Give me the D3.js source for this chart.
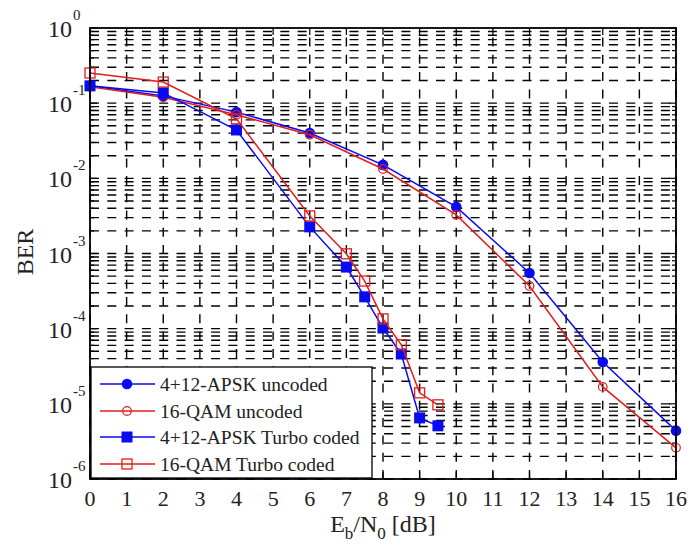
<!DOCTYPE html>
<html><head><meta charset="utf-8">
<script src="https://cdn.jsdelivr.net/npm/d3@7"></script>
<style>body{margin:0;background:#fff}svg{display:block}</style></head>
<body>
<svg id="c" width="692" height="556"></svg>
<script>
// ---- data ----
const ebn0Uncoded = [0, 2, 4, 6, 8, 10, 12, 14, 16];
const apskUncoded = [0.17, 0.125, 0.076, 0.040, 0.0151, 0.00417, 5.5e-4, 3.6e-5, 4.4e-6];
const qamUncoded  = [0.165, 0.12, 0.070, 0.038, 0.0133, 0.00326, 3.7e-4, 1.68e-5, 2.6e-6];
const ebn0Coded   = [0, 2, 4, 6, 7, 7.5, 8, 8.5, 9, 9.5];
const apskCoded   = [0.17, 0.137, 0.044, 0.00226, 6.6e-4, 2.65e-4, 1.02e-4, 4.6e-5, 6.5e-6, 5.1e-6];
const qamCoded    = [0.252, 0.191, 0.062, 0.00316, 9.9e-4, 4.3e-4, 1.35e-4, 6.1e-5, 1.4e-5, 9.7e-6];
const xTicks = [0,1,2,3,4,5,6,7,8,9,10,11,12,13,14,15,16];
const yExponents = [0, -1, -2, -3, -4, -5, -6];
const legendLabels = ["4+12-APSK uncoded", "16-QAM uncoded", "4+12-APSK Turbo coded", "16-QAM Turbo coded"];

const BLUE = "#0a0af0", RED = "#e01e1e";
const FONT = "'Liberation Serif','Times New Roman',serif";

const svg = d3.select("#c");
const L = 90, R = 676, T = 28, B = 479;
const x = d3.scaleLinear().domain([0, 16]).range([L, R]);
const y = d3.scaleLog().domain([1e-6, 1]).range([B, T]);

// ---- grid ----
const grid = svg.append("g").attr("stroke", "#000").attr("stroke-width", 1.4)
  .attr("fill", "none").attr("stroke-dasharray", "9,8.3");
const yGridVals = [];
for (let e = -6; e < 0; e++) for (let m = 1; m <= 9; m++) yGridVals.push(m * Math.pow(10, e));
yGridVals.forEach(v => {
  const yy = y(v);
  grid.append("line").attr("x1", L).attr("x2", R).attr("y1", yy).attr("y2", yy);
});
xTicks.forEach(t => {
  grid.append("line").attr("x1", x(t)).attr("x2", x(t)).attr("y1", B).attr("y2", T);
});

// ---- ticks (inward) ----
const tk = svg.append("g").attr("stroke", "#000").attr("stroke-width", 1.2);
xTicks.forEach(t => {
  tk.append("line").attr("x1", x(t)).attr("x2", x(t)).attr("y1", B).attr("y2", B - 7);
  tk.append("line").attr("x1", x(t)).attr("x2", x(t)).attr("y1", T).attr("y2", T + 7);
});
yGridVals.concat([1]).forEach(v => {
  const major = Math.abs(Math.log10(v) - Math.round(Math.log10(v))) < 1e-9;
  const len = major ? 7 : 4;
  tk.append("line").attr("x1", L).attr("x2", L + len).attr("y1", y(v)).attr("y2", y(v));
  tk.append("line").attr("x1", R).attr("x2", R - len).attr("y1", y(v)).attr("y2", y(v));
});

// ---- series ----
const line = (xs, ys) => d3.line().x((d, i) => x(xs[i])).y(d => y(d))(ys);
function drawSeries(xs, ys, color, marker) {
  svg.append("path").attr("d", line(xs, ys)).attr("fill", "none")
    .attr("stroke", color).attr("stroke-width", 1.5);
  const g = svg.append("g");
  ys.forEach((v, i) => drawMarker(g, x(xs[i]), y(v), color, marker));
}
function drawMarker(g, cx, cy, color, marker) {
  if (marker === "dot") g.append("circle").attr("cx", cx).attr("cy", cy).attr("r", 5.3).attr("fill", color);
  else if (marker === "ring") g.append("circle").attr("cx", cx).attr("cy", cy).attr("r", 4.3)
      .attr("fill", "none").attr("stroke", color).attr("stroke-width", 1.2);
  else if (marker === "sq") g.append("rect").attr("x", cx - 5.5).attr("y", cy - 5.5).attr("width", 11).attr("height", 11).attr("fill", color);
  else g.append("rect").attr("x", cx - 5).attr("y", cy - 5).attr("width", 10).attr("height", 10)
      .attr("fill", "none").attr("stroke", color).attr("stroke-width", 1.3);
}
drawSeries(ebn0Uncoded, apskUncoded, BLUE, "dot");
drawSeries(ebn0Uncoded, qamUncoded, RED, "ring");
drawSeries(ebn0Coded, apskCoded, BLUE, "sq");
drawSeries(ebn0Coded, qamCoded, RED, "box");

// ---- axes box ----
svg.append("rect").attr("x", L).attr("y", T).attr("width", R - L).attr("height", B - T)
  .attr("fill", "none").attr("stroke", "#000").attr("stroke-width", 1.8);

// ---- tick labels ----
svg.append("g").selectAll("text").data(xTicks).join("text")
  .attr("x", d => x(d)).attr("y", 506).attr("text-anchor", "middle")
  .attr("font-family", FONT).attr("font-size", 22).attr("fill", "#222").text(d => d);

const yl = svg.append("g").attr("font-family", FONT).attr("fill", "#222");
yExponents.forEach(e => {
  const yy = y(Math.pow(10, e));
  yl.append("text").attr("x", 72).attr("y", yy + 9).attr("text-anchor", "end")
    .attr("font-size", 24).text("10");
  yl.append("text").attr("x", 73).attr("y", yy - 8).attr("text-anchor", "start")
    .attr("font-size", 15).text(e === 0 ? "0" : "-" + Math.abs(e));
});

// ---- axis titles ----
svg.append("text").attr("transform", "translate(33,252) rotate(-90)").attr("text-anchor", "middle")
  .attr("font-family", FONT).attr("font-size", 24).attr("fill", "#222").text("BER");
const xt = svg.append("text").attr("x", 383).attr("y", 532).attr("text-anchor", "middle")
  .attr("font-family", FONT).attr("font-size", 24).attr("fill", "#222");
xt.append("tspan").text("E");
xt.append("tspan").attr("font-size", 17).attr("dy", 7).text("b");
xt.append("tspan").attr("dy", -7).text("/N");
xt.append("tspan").attr("font-size", 17).attr("dy", 7).text("0");
xt.append("tspan").attr("dy", -7).text(" [dB]");

// ---- legend ----
const lg = svg.append("g");
lg.append("rect").attr("x", 91).attr("y", 367).attr("width", 281).attr("height", 111)
  .attr("fill", "#fff").attr("stroke", "#000").attr("stroke-width", 1.3);
const legendColors = [BLUE, RED, BLUE, RED];
const legendMarkers = ["dot", "ring", "sq", "box"];
const rowY = [384, 411, 437, 464];
legendLabels.forEach((lab, i) => {
  lg.append("line").attr("x1", 100).attr("x2", 155).attr("y1", rowY[i]).attr("y2", rowY[i])
    .attr("stroke", legendColors[i]).attr("stroke-width", 1.5);
  drawMarker(lg, 127, rowY[i], legendColors[i], legendMarkers[i]);
  lg.append("text").attr("x", 160).attr("y", rowY[i] + 6.5).attr("font-family", FONT)
    .attr("font-size", 19.5).attr("fill", "#222").text(lab);
});
</script>
</body></html>
